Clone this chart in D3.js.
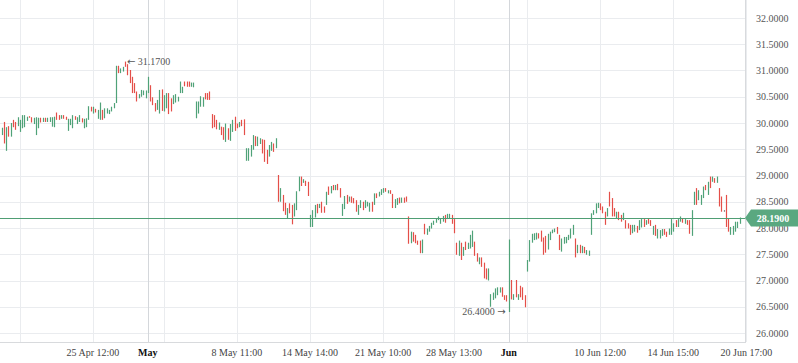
<!DOCTYPE html>
<html><head><meta charset="utf-8">
<script src="https://cdn.jsdelivr.net/npm/d3@7"></script>
<style>body{margin:0;background:#fff;}svg{display:block;}</style>
</head><body><svg id="c" width="798" height="363"></svg>
<script>
// ---- DATA ----
const highs = [29.91,30.02,29.92,29.94,30.00,30.06,30.02,30.11,30.06,30.15,30.15,30.12,30.13,30.11,30.10,30.11,30.10,30.10,30.10,30.10,
30.10,30.11,30.11,30.12,30.20,30.15,30.15,30.15,30.12,30.08,30.08,30.15,30.13,30.11,30.15,30.09,30.08,30.09,30.32,30.31,
30.31,30.27,30.25,30.39,30.25,30.28,30.28,30.25,30.31,30.38,31.09,31.09,31.04,31.07,31.17,31.12,31.01,30.88,30.76,30.60,
30.55,30.63,30.62,30.62,30.88,30.72,30.49,30.38,30.44,30.63,30.64,30.53,30.57,30.57,30.47,30.53,30.55,30.50,30.79,30.69,
30.79,30.79,30.79,30.77,30.77,30.41,30.41,30.51,30.49,30.57,30.57,30.60,30.17,30.15,30.06,30.01,29.93,29.92,29.99,29.90,
29.98,30.06,30.12,29.99,30.02,30.06,30.07,29.52,29.52,29.58,29.77,29.75,29.74,29.71,29.69,29.68,29.49,29.58,29.64,29.61,
29.71,
29.01,28.76,28.63,28.48,28.38,28.47,28.44,28.47,28.70,28.98,28.98,28.93,28.90,28.88,28.25,28.34,28.44,28.46,28.46,28.50,
28.41,28.69,28.79,28.80,28.82,28.82,28.84,28.76,28.46,28.61,28.63,28.60,28.60,28.57,28.53,28.44,28.53,28.50,28.53,28.50,
28.48,28.50,28.66,28.66,28.69,28.74,28.76,28.76,28.72,28.72,28.65,28.55,28.57,28.58,28.58,28.58,28.60,28.22,27.93,27.92,
27.87,27.76,27.76,27.78,28.08,27.99,28.04,28.10,28.14,28.18,28.22,28.18,28.23,28.25,28.27,28.27,28.25,28.17,27.72,27.76,
27.72,27.64,27.74,27.72,27.87,27.95,27.74,27.52,27.44,27.44,27.34,27.23,27.23,26.74,26.77,26.85,26.87,26.87,26.87,26.72,
26.72,27.78,27.01,26.74,27.01,26.74,26.90,26.87,26.72,27.39,27.77,27.89,27.90,27.91,27.90,27.95,27.82,27.85,27.89,27.93,
27.97,27.99,28.02,27.87,27.80,27.83,27.83,27.87,27.99,28.06,27.80,27.68,27.68,27.66,27.64,27.58,27.57,28.28,28.34,28.47,
28.48,28.47,28.41,28.31,28.38,28.69,28.57,28.38,28.31,28.31,28.25,28.29,28.15,28.09,28.06,28.06,28.06,28.04,28.15,28.17,
28.17,28.15,28.18,28.15,28.04,28.06,27.98,27.96,27.98,27.98,27.93,27.99,28.17,28.09,28.15,28.17,28.22,28.18,28.17,28.15,
28.15,28.34,28.69,28.76,28.72,28.63,28.79,28.82,28.88,28.98,28.98,28.95,28.98,28.76,28.60,28.34,28.63,28.18,28.02,28.04,
28.12,28.12,28.20];
const lows = [29.77,29.61,29.47,29.74,29.74,29.92,29.87,29.94,29.83,29.90,29.92,30.04,30.10,30.01,29.98,29.77,29.90,30.01,30.02,30.02,
30.02,30.02,29.93,29.92,30.06,30.06,30.08,30.08,30.06,29.85,29.96,29.90,30.06,29.98,30.02,30.01,29.90,29.92,30.06,30.22,
30.18,30.20,30.08,30.06,30.06,30.09,30.18,30.17,30.22,30.28,30.38,30.95,30.95,30.98,31.07,30.91,30.76,30.57,30.57,30.41,
30.47,30.50,30.53,30.47,30.57,30.41,30.34,30.22,30.25,30.18,30.23,30.22,30.28,30.17,30.22,30.36,30.39,30.41,30.57,30.57,
30.70,30.69,30.69,30.69,30.68,30.09,30.18,30.31,30.31,30.45,30.44,30.44,29.90,29.92,29.88,29.87,29.77,29.68,29.64,29.68,
29.66,29.83,29.85,29.90,29.92,29.94,29.77,29.28,29.28,29.36,29.49,29.56,29.56,29.60,29.42,29.26,29.22,29.36,29.47,29.45,
29.52,
28.50,28.50,28.32,28.25,28.18,28.28,28.07,28.22,28.34,28.70,28.80,28.86,28.80,28.61,28.02,28.02,28.20,28.28,28.38,28.29,
28.29,28.44,28.63,28.66,28.72,28.72,28.72,28.58,28.23,28.36,28.46,28.50,28.48,28.47,28.31,28.25,28.38,28.34,28.38,28.41,
28.31,28.31,28.44,28.57,28.60,28.63,28.67,28.69,28.66,28.65,28.38,28.38,28.44,28.47,28.48,28.48,28.50,27.70,27.71,27.74,
27.71,27.68,27.52,27.52,27.88,27.87,27.93,27.99,28.06,28.10,28.15,28.08,28.12,28.10,28.17,28.18,28.08,27.90,27.49,27.47,
27.39,27.47,27.58,27.60,27.61,27.64,27.47,27.36,27.31,27.26,27.04,27.02,27.00,26.50,26.63,26.66,26.72,26.77,26.69,26.63,
26.60,26.40,26.64,26.63,26.68,26.63,26.68,26.63,26.49,27.17,27.36,27.72,27.77,27.78,27.80,27.74,27.49,27.53,27.59,27.77,
27.90,27.92,27.89,27.58,27.55,27.70,27.71,27.77,27.80,27.87,27.44,27.52,27.52,27.52,27.52,27.49,27.47,27.87,28.25,28.28,
28.38,28.34,28.28,28.06,28.22,28.41,28.22,28.22,28.18,28.15,28.12,28.15,27.99,27.99,27.87,27.90,27.93,27.91,27.96,28.01,
28.02,28.06,28.08,28.04,27.87,27.85,27.80,27.80,27.85,27.87,27.83,27.87,27.87,27.93,28.02,28.02,28.12,28.10,28.08,28.06,
27.89,27.85,28.44,28.44,28.53,28.44,28.57,28.72,28.63,28.76,28.88,28.86,28.86,28.41,28.31,28.31,28.02,27.93,27.87,27.87,
27.93,28.00,28.08];
// 1 = up (green), -1 = down (red), 0 = unchanged
const dirs = [1,-1,1,-1,1,-1,-1,1,1,1,1,1,-1,-1,1,1,1,-1,1,-1,
1,1,1,1,-1,-1,1,-1,-1,1,1,1,-1,1,1,-1,1,1,1,-1,
1,-1,1,1,-1,1,1,1,1,1,1,-1,1,1,-1,-1,-1,-1,-1,-1,
1,1,1,1,1,-1,-1,-1,1,1,-1,1,1,-1,-1,1,1,1,1,1,
-1,-1,-1,1,1,1,1,1,1,-1,-1,-1,-1,-1,-1,1,-1,-1,1,-1,
1,1,-1,-1,1,-1,-1,1,1,1,1,-1,1,1,-1,-1,-1,1,1,-1,
1,
-1,1,-1,-1,1,-1,-1,1,1,1,-1,1,-1,-1,1,1,1,-1,1,-1,
-1,1,-1,1,-1,1,-1,-1,1,1,-1,1,-1,-1,-1,1,1,-1,1,1,
1,-1,1,-1,1,1,1,-1,1,-1,-1,1,1,-1,1,-1,-1,-1,1,-1,
-1,-1,-1,1,-1,1,1,1,1,1,1,1,1,-1,1,1,-1,-1,-1,1,
-1,1,-1,1,1,1,-1,-1,1,-1,-1,-1,1,1,1,1,1,1,-1,-1,
-1,1,-1,1,-1,1,-1,-1,-1,1,1,1,1,1,-1,-1,-1,-1,1,1,
1,1,-1,-1,1,1,1,1,1,1,-1,1,-1,1,-1,1,1,1,1,1,
1,-1,-1,-1,1,-1,-1,-1,1,-1,-1,1,-1,-1,-1,1,1,-1,1,1,
-1,1,-1,-1,1,-1,1,1,1,-1,-1,1,1,1,-1,1,1,-1,1,-1,
-1,1,1,-1,1,1,1,-1,1,-1,1,-1,1,-1,-1,0,-1,-1,1,1,
1,1,1];
const lastPrice = 28.19;
const priceTicks = [26,26.5,27,27.5,28,28.5,29,29.5,30,30.5,31,31.5,32];
const timeTickIdx = [8,40,71,103,135,167,198,230,262,294,326];
const timeTickLabels = ["","25 Apr 12:00","","8 May 11:00","14 May 14:00","21 May 10:00","28 May 13:00","","10 Jun 12:00","14 Jun 15:00","20 Jun 17:00"];
const monthIdx = [64,222];
const monthLabels = ["May","Jun"];

// ---- LAYOUT ----
const plotR = 745, plotB = 342;
const green = "#4fa278", red = "#e44f49", flat = "#777";
const N = highs.length;
const svg = d3.select("#c");
const x = d3.scaleLinear().domain([0, N-1]).range([1.6, 739.5]);
const y = d3.scaleLinear().domain([26, 32]).range([333, 18]);
const px = v => Math.round(v) + 0.5;
const font = "'Liberation Serif','Times New Roman',serif";
const arrowFont = "'DejaVu Sans',sans-serif";

svg.append("defs").append("clipPath").attr("id","clip")
  .append("rect").attr("x",0).attr("y",0).attr("width",plotR).attr("height",plotB);

const grid = svg.append("g");
grid.selectAll("line.h").data(priceTicks).join("line").attr("class","h")
  .attr("x1",0).attr("x2",plotR).attr("y1",d=>px(y(d))).attr("y2",d=>px(y(d)))
  .attr("stroke","#eaecef").attr("stroke-width",1);
grid.selectAll("line.v").data(timeTickIdx).join("line").attr("class","v")
  .attr("x1",d=>px(x(d))).attr("x2",d=>px(x(d))).attr("y1",0).attr("y2",plotB)
  .attr("stroke","#eaecef").attr("stroke-width",1);
grid.selectAll("line.m").data(monthIdx).join("line").attr("class","m")
  .attr("x1",d=>px(x(d))).attr("x2",d=>px(x(d))).attr("y1",0).attr("y2",plotB)
  .attr("stroke","#d4d7db").attr("stroke-width",1);

// bars
const bars = svg.append("g").attr("clip-path","url(#clip)");
bars.selectAll("line").data(d3.range(N)).join("line")
  .attr("x1",i=>px(x(i))).attr("x2",i=>px(x(i)))
  .attr("y1",i=>y(highs[i])).attr("y2",i=>Math.max(y(lows[i]), y(highs[i])+1.5))
  .attr("stroke",i=>dirs[i]>0?green:(dirs[i]<0?red:flat)).attr("stroke-width",1.2);

// price line
svg.append("line").attr("x1",0).attr("x2",plotR).attr("y1",px(y(lastPrice))).attr("y2",px(y(lastPrice)))
  .attr("stroke","#4f9e74").attr("stroke-width",1);

// axes borders
svg.append("line").attr("x1",px(plotR)).attr("x2",px(plotR)).attr("y1",0).attr("y2",plotB+1)
  .attr("stroke","#d8dadd");
svg.append("line").attr("x1",0).attr("x2",plotR).attr("y1",px(plotB)).attr("y2",px(plotB))
  .attr("stroke","#d8dadd");

// price labels
svg.append("g").selectAll("text").data(priceTicks).join("text")
  .attr("x",756).attr("y",d=>y(d)).attr("dy","0.35em")
  .attr("font-family",font).attr("font-size",10).attr("fill","#555")
  .text(d=>d3.format(".4f")(d));

// last price badge
const yl = y(lastPrice);
svg.append("path")
  .attr("d",`M${plotR},${yl} L${plotR+6},${yl-8.5} H798 V${yl+8.5} H${plotR+6} Z`)
  .attr("fill","#5aa880");
svg.append("text").attr("x",773).attr("y",yl).attr("dy","0.35em").attr("text-anchor","middle")
  .attr("font-family",font).attr("font-size",10).attr("font-weight","bold").attr("fill","#fff")
  .text(d3.format(".4f")(lastPrice));

// time labels
svg.append("g").selectAll("text").data(timeTickIdx).join("text")
  .attr("x",d=>x(d)).attr("y",356).attr("text-anchor","middle")
  .attr("font-family",font).attr("font-size",10).attr("fill","#444")
  .text((d,i)=>timeTickLabels[i]);
svg.append("g").selectAll("text").data(monthIdx).join("text")
  .attr("x",d=>x(d)).attr("y",356).attr("text-anchor","middle")
  .attr("font-family",font).attr("font-size",10).attr("font-weight","bold").attr("fill","#111")
  .text((d,i)=>monthLabels[i]);

// high / low markers
const iMax = d3.maxIndex(highs), iMin = d3.minIndex(lows);
const tMax = svg.append("text").attr("x",x(iMax)+2).attr("y",y(highs[iMax])).attr("dy","0.35em")
  .attr("font-family",font).attr("font-size",10).attr("fill","#555");
tMax.append("tspan").attr("font-family",arrowFont).attr("font-size",10).text("\u2190");
tMax.append("tspan").text(" " + d3.format(".4f")(highs[iMax]));
const tMin = svg.append("text").attr("x",x(iMin)-3).attr("y",y(lows[iMin])-1).attr("dy","0.35em").attr("text-anchor","end")
  .attr("font-family",font).attr("font-size",10).attr("fill","#555");
tMin.append("tspan").text(d3.format(".4f")(lows[iMin]) + " ");
tMin.append("tspan").attr("font-family",arrowFont).attr("font-size",10).text("\u2192");
</script></body></html>
